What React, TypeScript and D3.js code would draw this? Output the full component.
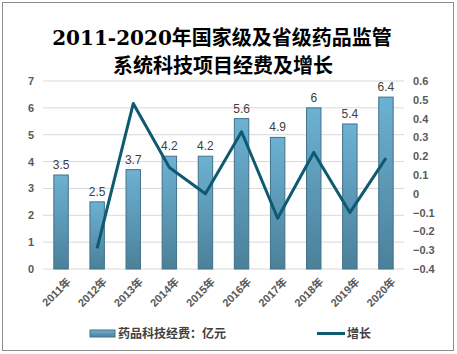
import * as d3 from "d3";

const years = ["2011年", "2012年", "2013年", "2014年", "2015年", "2016年", "2017年", "2018年", "2019年", "2020年"];
const funding = [3.5, 2.5, 3.7, 4.2, 4.2, 5.6, 4.9, 6, 5.4, 6.4];
const growth: (number | null)[] = [null, -0.29, 0.48, 0.14, 0, 0.33, -0.13, 0.22, -0.1, 0.19];
const leftTicks = [0, 1, 2, 3, 4, 5, 6, 7];
const rightTicks = [0.6, 0.5, 0.4, 0.3, 0.2, 0.1, 0, -0.1, -0.2, -0.3, -0.4];

const W = 457, H = 354;
const left = 43, right = 404, top = 81, bottom = 269;
const font = "'Liberation Sans', 'Noto Sans CJK SC', sans-serif";
const titleFont = "'DejaVu Serif', 'Noto Sans CJK SC', serif";

export default function App() {
  const x = d3.scaleBand<string>().domain(years).range([left, right]).paddingInner(0.6).paddingOuter(0.3);
  const xc = d3.scaleBand<string>().domain(years).range([left, right]);
  const y = d3.scaleLinear().domain([0, 7]).range([bottom, top]);
  const y2 = d3.scaleLinear().domain([-0.4, 0.6]).range([bottom, top]);

  const pts = years.map((yr, i) => ({ yr, v: growth[i] })).filter(d => d.v !== null) as { yr: string; v: number }[];
  const line = d3.line<{ yr: string; v: number }>()
    .x(d => xc(d.yr)! + xc.bandwidth() / 2)
    .y(d => y2(d.v));

  return (
    <svg width={W} height={H} style={{ position: "absolute", left: 0, top: 0 }}>
      <defs>
        <linearGradient id="bar" x1="0" y1="0" x2="0" y2="1">
          <stop offset="0" stopColor="#6db1d3" />
          <stop offset="1" stopColor="#4b8099" />
        </linearGradient>
      </defs>
      <rect x={2.5} y={2.5} width={451} height={348} fill="#fff" stroke="#8c8c8c" />
      <text x={222} y={45} textAnchor="middle" fontSize={20} fontWeight="bold" fontFamily={titleFont} fill="#000">
        2011-2020年国家级及省级药品监管
      </text>
      <text x={223} y={73} textAnchor="middle" fontSize={20} fontWeight="bold" fontFamily={titleFont} fill="#000">
        系统科技项目经费及增长
      </text>

      {leftTicks.map(t => (
        <g key={t}>
          <line x1={left} x2={right} y1={y(t)} y2={y(t)} stroke="#d9d9d9" />
          <text x={34} y={y(t) + 4} textAnchor="end" fontSize={11} fontWeight="bold" fill="#595959" fontFamily={font}>{t}</text>
        </g>
      ))}
      {rightTicks.map(t => (
        <text key={t} x={413} y={y2(t) + 4} fontSize={11} fontWeight="bold" fill="#595959" fontFamily={font}>{d3.format("")(Math.round(t * 10) / 10)}</text>
      ))}

      {years.map((yr, i) => (
        <g key={yr}>
          <rect x={x(yr)} y={y(funding[i])} width={x.bandwidth()} height={bottom - y(funding[i])}
            fill="url(#bar)" stroke="#42728a" strokeWidth={1} />
          <text x={x(yr)! + x.bandwidth() / 2} y={y(funding[i]) - 6} textAnchor="middle" fontSize={12}
            fill="#404040" fontFamily={font}>{funding[i]}</text>
          <text transform={`translate(${xc(yr)! + xc.bandwidth() / 2 + 5},${bottom + 8}) rotate(-45)`}
            textAnchor="end" fontSize={11} fontWeight="bold" fill="#595959" fontFamily={font} dy="0.7em">{yr}</text>
        </g>
      ))}

      <path d={line(pts)!} fill="none" stroke="#0e5a70" strokeWidth={3} strokeLinejoin="round" />

      <rect x={90} y={330} width={25} height={7} fill="url(#bar)" stroke="#42728a" />
      <text x={118} y={338} fontSize={12} fontWeight="bold" fill="#404040" fontFamily={font}>药品科技经费：亿元</text>
      <line x1={317} x2={345} y1={333.5} y2={333.5} stroke="#0e5a70" strokeWidth={3} />
      <text x={347} y={338} fontSize={12} fontWeight="bold" fill="#404040" fontFamily={font}>增长</text>
    </svg>
  );
}
